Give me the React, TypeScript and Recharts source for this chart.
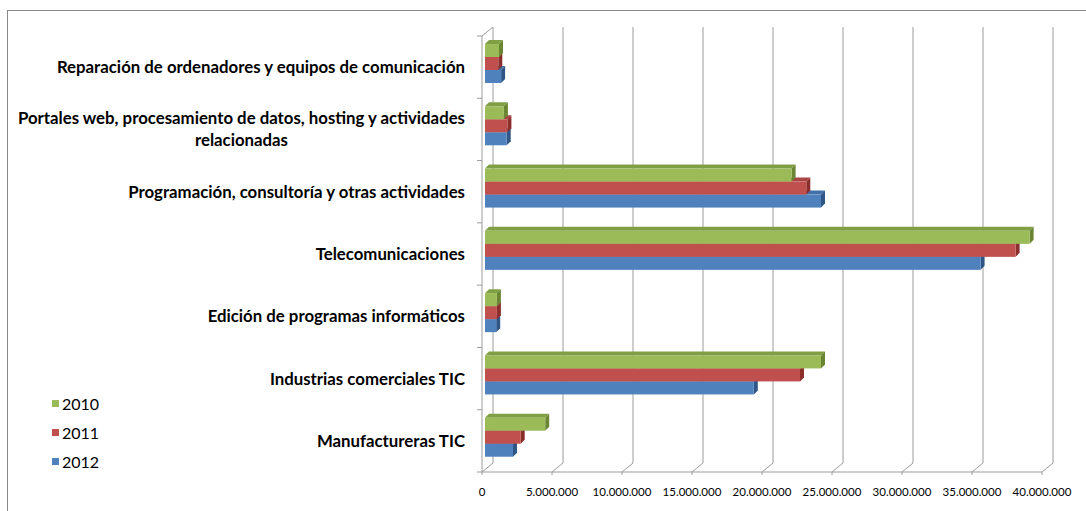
import { Bar, BarChart, CartesianGrid, XAxis, YAxis } from "recharts";

const categories = [
  "Reparación de ordenadores y equipos de comunicación",
  "Portales web, procesamiento de datos, hosting y actividades\nrelacionadas",
  "Programación, consultoría y otras actividades",
  "Telecomunicaciones",
  "Edición de programas informáticos",
  "Industrias comerciales TIC",
  "Manufactureras TIC",
];

const values2010 = [1000000, 1350000, 21900000, 38900000, 850000, 24000000, 4300000];
const values2011 = [950000, 1600000, 22950000, 37900000, 850000, 22500000, 2550000];
const values2012 = [1150000, 1550000, 24000000, 35400000, 800000, 19200000, 2000000];

const xTicks = [0, 5000000, 10000000, 15000000, 20000000, 25000000, 30000000, 35000000, 40000000];

// drawn bottom bar first so the top one paints over it (3D look)
const series = [
  { key: "y2012", name: "2012", fill: "#4F81BD", top: "#416FA8", side: "#2E5686" },
  { key: "y2011", name: "2011", fill: "#C0504D", top: "#A94542", side: "#8C2F2C" },
  { key: "y2010", name: "2010", fill: "#9BBB59", top: "#809F44", side: "#6A8633" },
];

const data = categories.map((c, i) => ({
  name: c,
  y2010: values2010[i],
  y2011: values2011[i],
  y2012: values2012[i],
}));

const FONT = "Lato, 'Noto Sans', sans-serif";
const DEPTH = 4;

const fmt = (v: number) => String(v).replace(/\B(?=(\d{3})+(?!\d))/g, ".");

function Bar3D(props: any) {
  const { x, y, width, height, fill, slot, top, side } = props;
  if (!width || width <= 0) return null;
  // mirror position inside the group, shift to mid depth of the floor
  const yy = y + (2 - 2 * slot) * height - 3;
  const xx = x + 3;
  const d = DEPTH;
  return (
    <g>
      <polygon
        points={`${xx},${yy} ${xx + d},${yy - d} ${xx + width + d},${yy - d} ${xx + width},${yy}`}
        fill={top}
      />
      <polygon
        points={`${xx + width},${yy} ${xx + width + d},${yy - d} ${xx + width + d},${yy + height - d} ${xx + width},${yy + height}`}
        fill={side}
      />
      <rect x={xx} y={yy} width={width} height={height} fill={fill} />
    </g>
  );
}

function GridLine(props: any) {
  const { x1, y1, y2, index } = props;
  const dx = 11;
  const dy = 9;
  return (
    <g key={`g-${index}`} stroke="#9c9c9c" strokeWidth={1}>
      <line x1={x1 + dx} y1={y1 - dy} x2={x1 + dx} y2={y2 - dy} />
      <line x1={x1} y1={y2} x2={x1 + dx} y2={y2 - dy} />
      {index === 0 && <line x1={x1} y1={y1} x2={x1 + dx} y2={y1 - dy} />}
    </g>
  );
}

function CategoryTick(props: any) {
  const { x, y, payload, index, visibleTicksCount, height } = props;
  const half = payload.offset || height / visibleTicksCount / 2;
  const ax = x + 17;
  return (
    <g>
      <line x1={ax - 5} y1={y - half} x2={ax} y2={y - half} stroke="#9c9c9c" />
      {index === visibleTicksCount - 1 && (
        <line x1={ax - 5} y1={y + half} x2={ax} y2={y + half} stroke="#9c9c9c" />
      )}
      <foreignObject x={x - 470} y={y - 30} width={470} height={60}>
        <div
          style={{
            height: 60,
            display: "flex",
            alignItems: "center",
            justifyContent: "flex-end",
          }}
        >
          <div
            style={{
              textAlign: "center",
              whiteSpace: "pre-line",
              fontFamily: FONT,
              fontWeight: 700,
              fontSize: 16.8,
              lineHeight: "22px",
              color: "#000",
            }}
          >
            {payload.value}
          </div>
        </div>
      </foreignObject>
    </g>
  );
}

function LegendBox() {
  const rows = [...series].reverse();
  return (
    <div
      style={{
        position: "absolute",
        left: 52,
        top: 389,
        fontFamily: FONT,
        fontSize: 16,
        color: "#000",
      }}
    >
      {rows.map((s) => (
        <div key={s.key} style={{ display: "flex", alignItems: "center", height: 29 }}>
          <span style={{ width: 7, height: 7, background: s.fill, marginRight: 3 }} />
          <span>{s.name}</span>
        </div>
      ))}
    </div>
  );
}

export default function App() {
  return (
    <div
      style={{
        position: "fixed",
        left: 0,
        top: 0,
        width: 1086,
        height: 511,
        overflow: "hidden",
        background: "#fff",
      }}
    >
      <div
        style={{
          position: "absolute",
          left: 7,
          top: 10,
          width: 1200,
          height: 600,
          borderLeft: "1px solid #8a8a8a",
          borderTop: "1px solid #8a8a8a",
        }}
      />
      <BarChart
        width={1086}
        height={511}
        data={data}
        layout="vertical"
        margin={{ top: 36, right: 44, left: 0, bottom: 0 }}
        barCategoryGap={11}
        barGap={0}
        style={{ position: "absolute", left: 0, top: 0 }}
      >
        <CartesianGrid horizontal={false} vertical={(p: any) => <GridLine {...p} />} />
        <XAxis
          type="number"
          domain={[0, 40000000]}
          ticks={xTicks}
          tickFormatter={fmt}
          height={39}
          axisLine={{ stroke: "#9c9c9c" }}
          tickLine={{ stroke: "#9c9c9c" }}
          tickSize={3}
          tickMargin={13}
          tick={{ fill: "#000", fontSize: 11.5, fontFamily: FONT }}
          interval={0}
        />
        <YAxis
          type="category"
          dataKey="name"
          width={482}
          axisLine={{ stroke: "#9c9c9c" }}
          tickLine={false}
          tickSize={5}
          tickMargin={12}
          tick={(p: any) => <CategoryTick {...p} />}
          interval={0}
        />
        {series.map((s, k) => (
          <Bar
            key={s.key}
            dataKey={s.key}
            name={s.name}
            fill={s.fill}
            isAnimationActive={false}
            shape={(p: any) => <Bar3D {...p} slot={k} top={s.top} side={s.side} />}
          />
        ))}
      </BarChart>
      <LegendBox />
    </div>
  );
}
